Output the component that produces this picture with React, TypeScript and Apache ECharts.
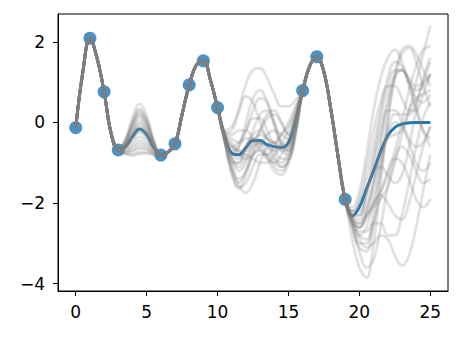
import React, { useEffect, useRef } from "react";
import * as echarts from "echarts";

// x grid of the curves
const gridX = [
  0, 0.5, 1, 1.5, 2, 2.5, 3, 3.5, 4, 4.5, 5, 5.5, 6, 6.5, 7, 7.5, 8, 8.5, 9, 9.5,
  10, 10.5, 11, 11.5, 12, 12.5, 13, 13.5, 14, 14.5, 15, 15.5, 16, 16.5, 17, 17.5,
  18, 18.5, 19, 19.5, 20, 20.5, 21, 21.5, 22, 22.5, 23, 23.5, 24, 24.5, 25,
];

// observed points
const obsX = [0, 1, 2, 3, 6, 7, 8, 9, 10, 16, 17, 19];
const obsY = [-0.13, 2.09, 0.76, -0.68, -0.81, -0.53, 0.93, 1.53, 0.37, 0.79, 1.63, -1.91];

// curve segments where every sample agrees (x 0..3, 6..10, 16..19)
const sharedHead = [-0.13, 1.25, 2.09, 1.6, 0.76, -0.28, -0.68];
const sharedMid = [-0.81, -0.74, -0.53, 0.2, 0.93, 1.42, 1.53, 1.05, 0.37];
const sharedTail = [0.79, 1.4, 1.63, 1.25, 0.3, -0.85, -1.91];

// posterior mean in the gaps (x 3.5..5.5, 10.5..15.5, 19.5..25)
const meanGapB = [-0.6, -0.35, -0.16, -0.3, -0.62];
const meanGapC = [-0.35, -0.76, -0.8, -0.62, -0.45, -0.45, -0.55, -0.6, -0.62, -0.5, 0.05];
const meanGapE = [-2.32, -2.1, -1.65, -1.2, -0.72, -0.33, -0.12, -0.04, -0.01, 0, 0, 0];

// samples in gap x 3.5..5.5
const sampleGapB = [
  [-0.41, 0.12, 0.46, 0.17, -0.43],
  [-0.79, -0.82, -0.78, -0.77, -0.81],
  [-0.48, -0.05, 0.24, 0.0, -0.5],
  [-0.75, -0.73, -0.66, -0.68, -0.77],
  [-0.56, -0.24, -0.01, -0.19, -0.58],
  [-0.69, -0.58, -0.46, -0.53, -0.71],
  [-0.45, 0.03, 0.34, 0.08, -0.47],
  [-0.6, -0.35, -0.16, -0.3, -0.62],
  [-0.74, -0.69, -0.61, -0.64, -0.76],
  [-0.51, -0.13, 0.14, -0.08, -0.53],
  [-0.63, -0.43, -0.26, -0.38, -0.65],
  [-0.53, -0.19, 0.06, -0.14, -0.55],
  [-0.77, -0.79, -0.74, -0.74, -0.79],
  [-0.59, -0.31, -0.11, -0.26, -0.61],
  [-0.66, -0.5, -0.36, -0.45, -0.68],
  [-0.5, -0.09, 0.19, -0.04, -0.52],
  [-0.71, -0.64, -0.54, -0.59, -0.73],
  [-0.57, -0.28, -0.06, -0.23, -0.59],
  [-0.62, -0.39, -0.21, -0.34, -0.64],
  [-0.47, -0.01, 0.29, 0.04, -0.49],
];

// samples in gap x 10.5..15.5
const sampleGapC = [
  [-0.2, -0.1, 0.35, 0.95, 1.3, 1.35, 1.1, 0.7, 0.4, 0.4, 0.55],
  [-0.25, -0.2, 0.25, 0.65, 0.5, 0.0, -0.4, -0.5, -0.3, 0.0, 0.4],
  [-0.45, -1.1, -1.4, -1.2, -0.7, -0.2, 0.2, 0.3, 0.0, -0.3, 0.1],
  [-0.45, -1.05, -1.55, -1.75, -1.5, -1.0, -0.6, -0.5, -0.7, -0.8, -0.2],
  [-0.3, -0.6, -0.5, -0.2, 0.1, 0.1, -0.2, -0.6, -0.9, -0.9, -0.3],
  [-0.45, -1.2, -1.6, -1.5, -1.1, -0.8, -0.8, -1.0, -1.1, -0.9, -0.2],
  [-0.25, -0.3, -0.2, -0.2, -0.4, -0.7, -0.8, -0.6, -0.3, -0.1, 0.3],
  [-0.4, -0.9, -1.0, -0.7, -0.3, -0.2, -0.4, -0.8, -1.1, -1.0, -0.3],
  [-0.35, -0.8, -0.9, -0.6, -0.2, 0.2, 0.3, 0.0, -0.5, -0.7, -0.1],
  [-0.45, -1.3, -1.65, -1.3, -0.8, -0.5, -0.6, -0.9, -1.0, -0.7, 0.0],
  [-0.3, -0.5, -0.7, -0.7, -0.5, -0.2, 0.1, 0.2, 0.0, -0.3, 0.1],
  [-0.3, -0.7, -0.6, -0.2, 0.3, 0.6, 0.5, 0.0, -0.5, -0.6, -0.1],
  [-0.45, -1.0, -1.0, -0.6, -0.4, -0.5, -0.8, -1.1, -1.2, -0.9, -0.2],
  [-0.3, -0.6, -0.7, -0.8, -0.9, -1.0, -1.0, -0.8, -0.6, -0.4, 0.2],
  [-0.4, -0.9, -1.2, -1.0, -0.6, -0.5, -0.6, -0.7, -0.5, -0.2, 0.3],
  [-0.25, -0.4, -0.5, -0.4, -0.4, -0.6, -0.9, -1.2, -1.3, -1.0, -0.2],
  [-0.4, -0.8, -0.6, 0.0, 0.6, 0.8, 0.5, -0.1, -0.6, -0.7, -0.1],
  [-0.45, -1.2, -1.5, -1.2, -0.8, -0.7, -0.9, -1.0, -0.8, -0.5, 0.1],
  [-0.3, -0.6, -0.8, -0.9, -0.8, -0.6, -0.3, -0.2, -0.3, -0.4, 0.1],
  [-0.4, -0.9, -1.1, -0.9, -0.5, -0.3, -0.4, -0.5, -0.7, -0.6, 0.0],
];

// samples in gap x 19.5..25
const sampleGapE = [
  [-2.5, -2.6, -2.2, -1.5, -0.8, -0.4, -0.3, -0.2, 0.3, 1.0, 1.7, 2.4],
  [-2.9, -3.6, -3.85, -3.0, -1.5, 0.0, 1.1, 1.7, 1.85, 1.5, 0.9, 0.4],
  [-2.6, -3.1, -3.2, -2.5, -1.3, 0.1, 1.2, 1.8, 1.9, 1.7, 1.3, 0.9],
  [-2.4, -2.6, -2.3, -1.6, -0.6, 0.4, 1.1, 1.3, 1.0, 0.4, -0.2, -0.6],
  [-2.3, -2.3, -1.8, -0.9, 0.1, 0.9, 1.3, 1.3, 1.0, 0.6, 0.5, 0.7],
  [-2.5, -2.9, -3.1, -3.0, -2.8, -2.9, -3.3, -3.55, -3.3, -2.6, -1.7, -0.8],
  [-2.4, -2.7, -2.7, -2.5, -2.5, -2.8, -2.8, -2.3, -1.5, -0.6, 0.1, 0.5],
  [-2.2, -2.2, -1.7, -1.2, -1.1, -1.3, -1.5, -1.3, -0.6, 0.3, 1.1, 1.6],
  [-2.1, -1.7, -0.8, 0.3, 1.1, 1.6, 1.8, 1.5, 0.9, 0.3, -0.2, -0.4],
  [-2.4, -2.8, -2.9, -2.5, -1.8, -1.2, -0.9, -1.0, -1.4, -1.9, -2.1, -1.9],
  [-2.2, -1.9, -1.1, -0.2, 0.5, 0.9, 0.9, 0.6, 0.3, 0.3, 0.7, 1.2],
  [-2.5, -3.0, -3.0, -2.2, -1.1, -0.2, 0.2, 0.2, 0.2, 0.5, 1.0, 1.5],
  [-2.3, -2.5, -2.3, -2.0, -1.7, -1.3, -0.7, 0.0, 0.8, 1.4, 1.8, 1.9],
  [-2.6, -3.2, -3.6, -3.4, -2.6, -1.6, -0.9, -0.6, -0.8, -1.2, -1.5, -1.4],
  [-2.2, -2.0, -1.4, -0.6, 0.3, 1.1, 1.5, 1.4, 1.0, 0.8, 0.9, 1.2],
  [-2.4, -2.6, -2.4, -2.0, -1.8, -2.0, -2.3, -2.4, -2.0, -1.3, -0.6, -0.1],
  [-2.3, -2.3, -1.8, -1.0, -0.2, 0.3, 0.3, 0.0, -0.4, -0.6, -0.5, -0.1],
  [-2.5, -2.8, -2.6, -1.9, -1.0, -0.3, 0.0, -0.1, -0.5, -1.0, -1.2, -1.0],
  [-2.3, -2.4, -2.1, -1.4, -0.4, 0.6, 1.2, 1.3, 1.1, 0.9, 1.0, 1.2],
  [-2.4, -2.5, -2.3, -2.1, -1.9, -1.6, -1.0, -0.3, 0.3, 0.6, 0.7, 0.8],
];

const xTicks = [0, 5, 10, 15, 20, 25];
const yTicks = [-4, -2, 0, 2];

const buildCurve = (b: number[], c: number[], e: number[]) =>
  [...sharedHead, ...b, ...sharedMid, ...c, ...sharedTail, ...e];

const toPairs = (ys: number[]) => gridX.map((x, i) => [x, ys[i]]);

export default function App() {
  const ref = useRef<HTMLDivElement>(null);
  useEffect(() => {
    if (!ref.current) return;
    const chart = echarts.init(ref.current, null, { renderer: "svg" });
    const font = "DejaVu Sans";
    const meanCurve = buildCurve(meanGapB, meanGapC, meanGapE);
    const sampleSeries = sampleGapB.map((b, k) => ({
      type: "line",
      data: toPairs(buildCurve(b, sampleGapC[k], sampleGapE[k])),
      smooth: 0.4,
      showSymbol: false,
      symbol: "none",
      silent: true,
      lineStyle: { color: "rgba(128,128,128,0.24)", width: 2.8 },
      z: 4,
    }));
    chart.setOption({
      animation: false,
      backgroundColor: "#fff",
      grid: {
        left: 58,
        right: 14,
        top: 14,
        bottom: 48,
        show: true,
        borderColor: "#000",
        borderWidth: 1,
        backgroundColor: "transparent",
      },
      xAxis: {
        type: "value",
        min: -1.25,
        max: 26.25,
        splitLine: { show: false },
        axisLine: { onZero: false, lineStyle: { color: "#000", width: 1 } },
        axisTick: { show: true, length: 5, customValues: xTicks, lineStyle: { color: "#000" } },
        axisLabel: {
          customValues: xTicks,
          color: "#000",
          fontSize: 17,
          fontFamily: font,
          margin: 12,
        },
      },
      yAxis: {
        type: "value",
        min: -4.18,
        max: 2.69,
        splitLine: { show: false },
        axisLine: { onZero: false, show: true, lineStyle: { color: "#000", width: 1 } },
        axisTick: { show: true, length: 5, customValues: yTicks, lineStyle: { color: "#000" } },
        axisLabel: {
          customValues: yTicks,
          color: "#000",
          fontSize: 17,
          fontFamily: font,
          margin: 13,
          formatter: (v: number) => (v < 0 ? "\u2212" + Math.abs(v) : String(v)),
        },
      },
      series: [
        {
          type: "scatter",
          data: obsX.map((x, i) => [x, obsY[i]]),
          symbolSize: 13,
          itemStyle: { color: "#1f77b4" },
          silent: true,
          z: 2,
        },
        {
          type: "line",
          data: toPairs(meanCurve),
          smooth: 0.4,
          showSymbol: false,
          symbol: "none",
          silent: true,
          lineStyle: { color: "#1f77b4", width: 3 },
          z: 3,
        },
        ...sampleSeries,
      ],
    });
    return () => chart.dispose();
  }, []);
  return (
    <div
      ref={ref}
      style={{ position: "absolute", left: 0, top: 0, width: 462, height: 339, background: "#fff" }}
    />
  );
}
